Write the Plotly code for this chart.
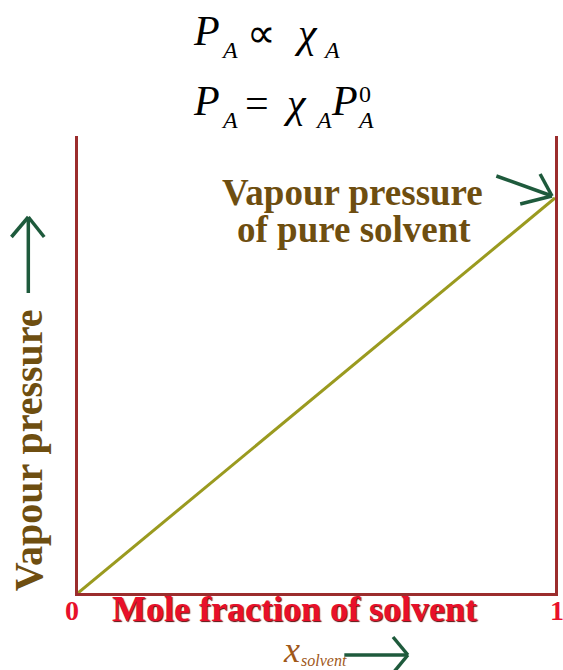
import plotly.graph_objects as go

# Raoult's law: vapour pressure rises linearly with mole fraction of solvent
mole_fraction = [0, 1]
vapour_pressure = [0, 1]
tick_values = [0, 1]
tick_labels = ["0", "1"]

W, H = 563, 670
L, R, T, B = 78, 5, 136, 77
PW, PH = W - L - R, H - T - B

AXIS = "#9b2d2d"
LINE = "#9a9a1f"
BROWN = "#6e4e10"
GREEN = "#1e5a3c"
RED = "#e8102a"
SERIF = "Liberation Serif, Times New Roman, serif"


def px(x, y):
    """Pixel position to paper coordinates."""
    return (x - L) / PW, (H - B - y) / PH


fig = go.Figure()
fig.add_trace(go.Scatter(
    x=mole_fraction, y=vapour_pressure, mode="lines",
    line=dict(color=LINE, width=3), hoverinfo="skip", showlegend=False,
))

shapes = []


def seg(x0, y0, x1, y1, color=GREEN, width=3.5):
    a0, b0 = px(x0, y0)
    a1, b1 = px(x1, y1)
    shapes.append(dict(type="line", xref="paper", yref="paper",
                       x0=a0, y0=b0, x1=a1, y1=b1,
                       line=dict(color=color, width=width)))


def chevron_arrow(x0, y0, x1, y1, arm1, arm2):
    seg(x0, y0, x1, y1)
    seg(arm1[0], arm1[1], x1, y1)
    seg(arm2[0], arm2[1], x1, y1)


# arrow beside the vertical axis title
chevron_arrow(28, 293, 28, 217, (11, 237), (44, 237))
# arrow pointing at the pure-solvent end of the line
chevron_arrow(499, 176, 555, 196, (543, 174), (523, 204))
# arrow after the x_solvent label
chevron_arrow(346, 655, 410, 655, (395, 637), (395, 673))

annotations = []


def label(text, x, y, size, color, bold=False, italic=False, angle=0,
          shadow=None, xanchor="center", height=None):
    a, b = px(x, y)
    font = dict(family=SERIF, size=size, color=color,
                weight="bold" if bold else "normal",
                style="italic" if italic else "normal")
    if shadow:
        font["shadow"] = shadow
    ann = dict(text=text, x=a, y=b, xref="paper", yref="paper",
               showarrow=False, xanchor=xanchor, yanchor="middle",
               textangle=angle, font=font)
    if height:
        ann["height"] = height
    annotations.append(ann)


# equations, glyph by glyph so subscripts and superscripts sit like typeset maths
MAIN, SMALL = 42, 24
# P_A ∝ χ_A
label("P", 207, 31, MAIN, "black", italic=True)
label("A", 230, 50, SMALL, "black", italic=True, height=20)
label("∝", 263, 33, 40, "black")
label("χ", 307, 33, MAIN, "black", italic=True)
label("A", 333, 50, SMALL, "black", italic=True, height=20)
# P_A = χ_A P_A^0
label("P", 207, 101, MAIN, "black", italic=True)
label("A", 230, 120, SMALL, "black", italic=True, height=20)
label("=", 258, 103, MAIN, "black")
label("χ", 296, 103, MAIN, "black", italic=True)
label("A", 325, 120, SMALL, "black", italic=True, height=20)
label("P", 346, 101, MAIN, "black", italic=True)
label("0", 367, 94, SMALL, "black", height=20)
label("A", 367, 120, SMALL, "black", italic=True, height=20)

# annotations on the chart
label("Vapour pressure", 354, 192, 37, BROWN, bold=True)
label("of pure solvent", 356, 229, 37, BROWN, bold=True)
label("Vapour pressure", 28, 450, 40, BROWN, bold=True, angle=-90)
label("Mole fraction of solvent", 296, 609, 36, RED, bold=True,
      shadow="1px 1px 1px #5a0a0a")
label("x", 293, 650, 36, "#a0581a", italic=True)
label("solvent", 326, 660, 16, "#a0581a", italic=True)

# tick labels at the two ends of the mole-fraction axis
for v, t in zip(tick_values, tick_labels):
    annotations.append(dict(text=t, x=v, xref="x", y=px(0, 610)[1], yref="paper",
                            xshift=-6 if v == 0 else 2, showarrow=False,
                            xanchor="center", yanchor="middle",
                            font=dict(family=SERIF, size=28, color=RED,
                                      weight="bold")))

fig.update_layout(
    width=W, height=H,
    margin=dict(l=L, r=R, t=T, b=B, pad=0),
    paper_bgcolor="white", plot_bgcolor="white",
    shapes=shapes, annotations=annotations,
    xaxis=dict(range=[0, 1], showgrid=False, zeroline=False,
               showline=True, linecolor=AXIS, linewidth=3,
               showticklabels=False, ticks=""),
    yaxis=dict(range=[0, 1.157], showgrid=False, zeroline=False,
               showline=True, mirror=True, linecolor=AXIS, linewidth=3,
               showticklabels=False, ticks=""),
)

fig.write_html("out.html")
